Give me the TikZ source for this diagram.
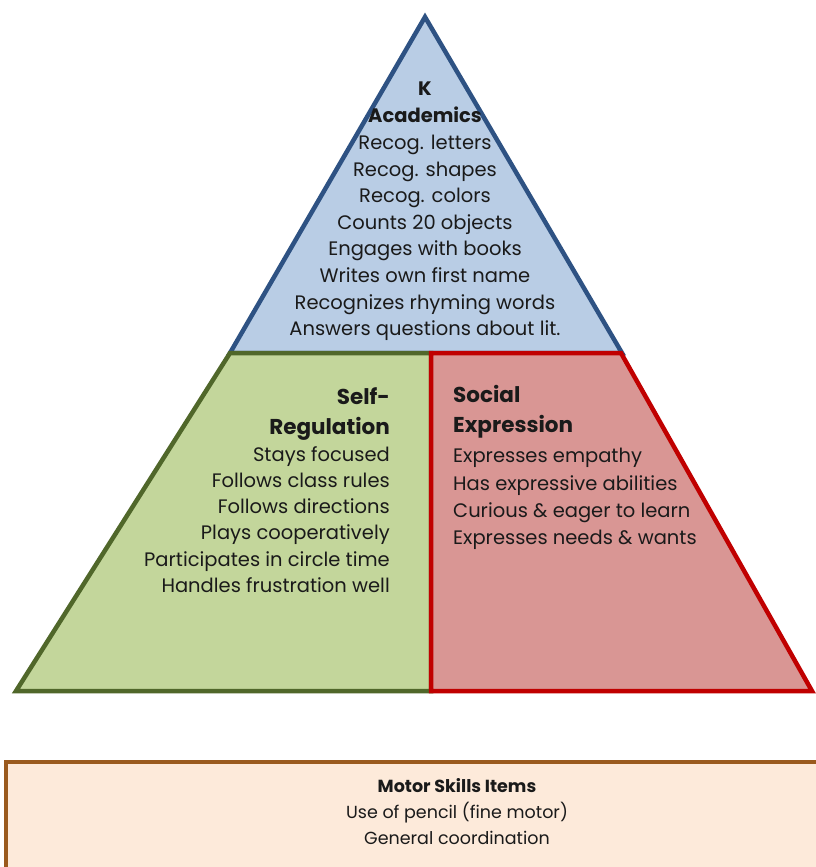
\documentclass[tikz,border=0pt]{standalone}
\usepackage{fontspec}
\setmainfont{Poppins}
\definecolor{acfill}{HTML}{B9CDE5}
\definecolor{acdraw}{HTML}{2E5283}
\definecolor{srfill}{HTML}{C3D69B}
\definecolor{srdraw}{HTML}{50672A}
\definecolor{sefill}{HTML}{D99694}
\definecolor{sedraw}{HTML}{C00000}
\definecolor{mofill}{HTML}{FDEADA}
\definecolor{modraw}{HTML}{9A5A1E}
\definecolor{txt}{HTML}{1A1A1A}
\tikzset{
  item/.style={inner sep=0pt, text=txt, font=\fontsize{19.5}{22}\selectfont},
  head/.style={inner sep=0pt, text=txt, font=\fontsize{19.5}{22}\selectfont\bfseries},
  bighead/.style={inner sep=0pt, text=txt, font=\fontsize{21.5}{24}\selectfont\bfseries},
  mitem/.style={inner sep=0pt, text=txt, font=\fontsize{17.5}{20}\selectfont},
  mhead/.style={inner sep=0pt, text=txt, font=\fontsize{17.5}{20}\selectfont\bfseries},
}
\begin{document}
\begin{tikzpicture}[x=1pt,y=-1pt,line join=miter]
\useasboundingbox (0,0) rectangle (815,867);
\fill[white] (0,0) rectangle (815,867);
% Academics triangle
\path[fill=acfill, draw=acdraw, line width=4.5pt] (425,17) -- (622,353) -- (230,353) -- cycle;
% Self-regulation
\path[fill=srfill, draw=srdraw, line width=4.5pt] (230,353) -- (431,353) -- (431,691) -- (16,691) -- cycle;
% Social expression
\path[fill=sefill, draw=sedraw, line width=4.5pt] (431,353) -- (621,353) -- (812,691) -- (431,691) -- cycle;
% Motor skills box
\path[fill=mofill, draw=modraw, line width=4.5pt] (6,762) rectangle (830,890);

% Academics text
\node[head, anchor=mid] (ak) at (425,93) {K};
\node[head, anchor=mid] (ah) at (425,120) {Academics};
\foreach \t [count=\i] in {Recog. letters, Recog. shapes, Recog. colors, Counts 20 objects, Engages with books, Writes own first name, Recognizes rhyming words, Answers questions about lit.}
  \node[item, anchor=mid] (a\i) at (425,{120+26.65*\i}) {\t};

% Self-regulation text
\node[bighead, anchor=mid east] (sh1) at (390,402) {Self-};
\node[bighead, anchor=mid east] (sh2) at (390,432) {Regulation};
\foreach \t [count=\i] in {Stays focused, Follows class rules, Follows directions, Plays cooperatively, Participates in circle time, Handles frustration well}
  \node[item, anchor=mid east] (s\i) at (390,{432+26.3*\i}) {\t};

% Social expression text
\node[bighead, anchor=mid west] (eh1) at (453,400) {Social};
\node[bighead, anchor=mid west] (eh2) at (453,430) {Expression};
\foreach \t [count=\i] in {Expresses empathy, Has expressive abilities, Curious \& eager to learn, Expresses needs \& wants}
  \node[item, anchor=mid west] (e\i) at (453,{433+27.2*\i}) {\t};

% Motor text
\node[mhead, anchor=mid] (mh) at (457,790) {Motor Skills Items};
\node[mitem, anchor=mid] (m1) at (457,816) {Use of pencil (fine motor)};
\node[mitem, anchor=mid] (m2) at (457,842) {General coordination};
\end{tikzpicture}
\end{document}
